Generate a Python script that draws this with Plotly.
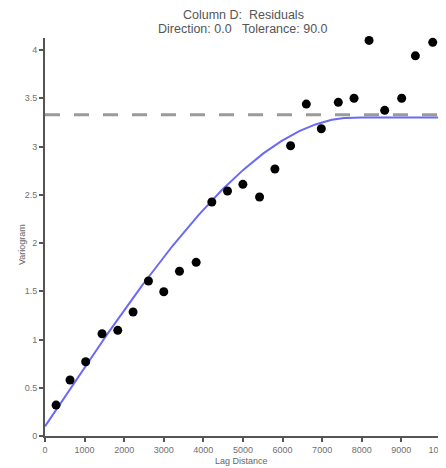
import plotly.graph_objects as go

# Experimental variogram points (lag distance, semivariance)
lag_distance = [280, 632, 1028, 1441, 1838, 2225, 2613, 3000, 3397, 3818,
                4214, 4610, 4998, 5419, 5807, 6203, 6600, 6979, 7408, 7805,
                8185, 8580, 9009, 9355, 9793]
semivariance = [0.32, 0.58, 0.77, 1.06, 1.095, 1.285, 1.606, 1.495, 1.707, 1.80,
                2.425, 2.539, 2.608, 2.477, 2.767, 3.008, 3.44, 3.185, 3.458, 3.50,
                4.10, 3.375, 3.50, 3.94, 4.08]

# Fitted spherical model parameters
nugget = 0.1
partial_sill = 3.2
model_range = 7800
sample_variance = 3.33

x_ticks = [0, 1000, 2000, 3000, 4000, 5000, 6000, 7000, 8000, 9000, 10000]
x_tick_labels = ["0", "1000", "2000", "3000", "4000", "5000", "6000", "7000", "8000", "9000", "10000"]
y_ticks = [0, 0.5, 1, 1.5, 2, 2.5, 3, 3.5, 4]
y_tick_labels = ["0", "0.5", "1", "1.5", "2", "2.5", "3", "3.5", "4"]

model_x = [i * 50 for i in range(0, 201)]
def spherical(h):
    if h >= model_range:
        return nugget + partial_sill
    r = h / model_range
    return nugget + partial_sill * (1.5 * r - 0.5 * r ** 3)
model_y = [spherical(h) for h in model_x]

fig = go.Figure()
fig.add_trace(go.Scatter(
    x=[0, 10000], y=[sample_variance, sample_variance], mode="lines",
    line=dict(color="#9a9a9a", width=3, dash="15px,14px"), hoverinfo="skip"))
fig.add_trace(go.Scatter(
    x=model_x, y=model_y, mode="lines",
    line=dict(color="#6a6af5", width=2), hoverinfo="skip"))
fig.add_trace(go.Scatter(
    x=lag_distance, y=semivariance, mode="markers",
    marker=dict(color="black", size=9), cliponaxis=False))

font = "Liberation Sans, Arial, sans-serif"
PW, PH = 396.0, 398.0
# page has an 8px body margin, so the figure is 8px smaller and margins are shifted
fig.update_layout(
    width=438, height=460,
    margin=dict(l=37, r=5, t=30, b=32, autoexpand=False),
    paper_bgcolor="white", plot_bgcolor="white",
    showlegend=False,
    font=dict(family=font),
    annotations=[
        dict(text="Column D:\u00a0\u00a0Residuals", xref="paper", yref="paper",
             x=0.5, y=1 + (38 - 15) / PH, showarrow=False, xanchor="center", yanchor="middle",
             font=dict(family=font, size=12.5, color="#555555")),
        dict(text="Direction: 0.0\u00a0\u00a0\u00a0Tolerance: 90.0", xref="paper", yref="paper",
             x=0.5, y=1 + (38 - 29) / PH, showarrow=False, xanchor="center", yanchor="middle",
             font=dict(family=font, size=12.5, color="#555555")),
        dict(text="Lag Distance", xref="paper", yref="paper",
             x=(241 - 45) / PW, y=-(461 - 436) / PH, showarrow=False, xanchor="center", yanchor="middle",
             font=dict(family=font, size=9, color="#666666")),
        dict(text="Variogram", xref="paper", yref="paper", textangle=-90,
             x=(22 - 45) / PW, y=(436 - 245) / PH, showarrow=False, xanchor="center", yanchor="middle",
             font=dict(family=font, size=9, color="#666666")),
    ],
)
fig.update_xaxes(
    range=[0, 10002], tickvals=x_ticks, ticktext=x_tick_labels, automargin=False,
    ticklabeloverflow="allow",
    showline=True, linecolor="#555555", linewidth=2, mirror=False,
    ticks="outside", ticklen=4, tickwidth=1.5, tickcolor="#555555",
    showgrid=False, zeroline=False,
    tickfont=dict(size=9, color="#707070"))
fig.update_yaxes(
    range=[0, 4.125], tickvals=y_ticks, ticktext=y_tick_labels, automargin=False,
    showline=True, linecolor="#555555", linewidth=2, mirror=False,
    ticks="outside", ticklen=4, tickwidth=1.5, tickcolor="#555555",
    showgrid=False, zeroline=False,
    tickfont=dict(size=9, color="#707070"))

fig.write_html("out.html")
